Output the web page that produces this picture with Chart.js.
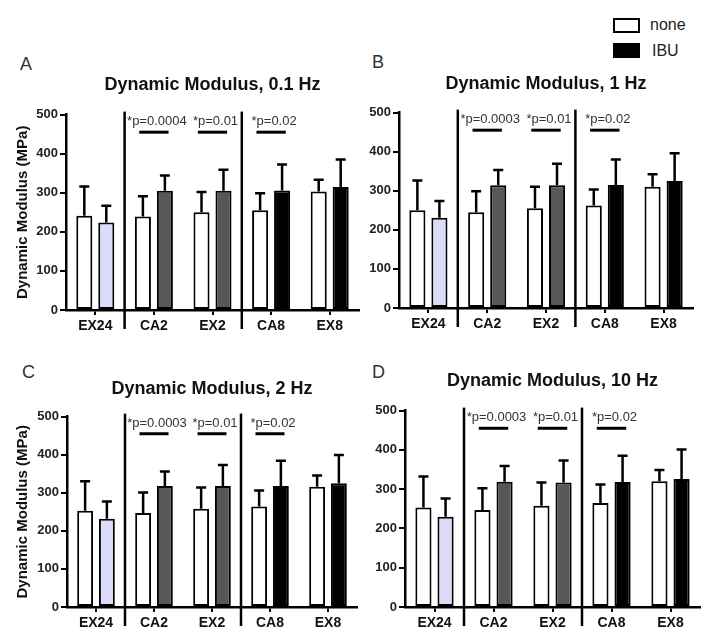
<!DOCTYPE html>
<html>
<head>
<meta charset="utf-8">
<script src="https://cdn.jsdelivr.net/npm/chart.js@4.4.0/dist/chart.umd.min.js"></script>
<style>
  body { margin: 0; background: #fff; font-family: "Liberation Sans", Arial, sans-serif; }
  #page { position: relative; width: 718px; height: 644px; overflow: hidden; }
  canvas { position: absolute; }
  .letter { position: absolute; font-size: 18px; line-height: 18px; color: #333; }
  .legend-box { position: absolute; width: 23px; height: 11px; border: 2px solid #000; }
  .legend-text { position: absolute; font-size: 16px; line-height: 16px; color: #222; }
</style>
</head>
<body>
<div id="page">
  <div class="letter" style="left:20px;top:55px">A</div>
  <div class="letter" style="left:372px;top:53px">B</div>
  <div class="letter" style="left:22px;top:363px">C</div>
  <div class="letter" style="left:372px;top:363px">D</div>

  <div class="legend-box" style="left:613px;top:18px;background:#fff"></div>
  <div class="legend-text" style="left:650px;top:17px">none</div>
  <div class="legend-box" style="left:613px;top:43px;background:#000"></div>
  <div class="legend-text" style="left:652px;top:43px">IBU</div>

  <canvas id="chartA" width="362" height="280" style="left:0;top:60px"></canvas>
  <canvas id="chartB" width="356" height="278" style="left:362px;top:60px"></canvas>
  <canvas id="chartC" width="362" height="277" style="left:0;top:360px"></canvas>
  <canvas id="chartD" width="356" height="282" style="left:362px;top:355px"></canvas>
</div>

<script>
'use strict';

const FONT = '"Liberation Sans", Arial, sans-serif';

const categories = ['EX24', 'CA2', 'EX2', 'CA8', 'EX8'];
const yTicks = [0, 100, 200, 300, 400, 500];
const groupStarts = ['CA2', 'CA8'];
const sigCategories = ['CA2', 'EX2', 'CA8'];

const titleA = 'Dynamic Modulus, 0.1 Hz';
const titleB = 'Dynamic Modulus, 1 Hz';
const titleC = 'Dynamic Modulus, 2 Hz';
const titleD = 'Dynamic Modulus, 10 Hz';
const yTitle = 'Dynamic Modulus (MPa)';

// means and upper SD for each panel
const noneA = [241, 239, 250, 255, 303];
const noneErrA = [75, 52, 52, 44, 30];
const ibuA = [224, 305, 305, 306, 315];
const ibuErrA = [43, 39, 54, 66, 70];

const noneB = [250, 245, 255, 262, 310];
const noneErrB = [76, 54, 55, 41, 32];
const ibuB = [231, 314, 314, 315, 325];
const ibuErrB = [43, 39, 55, 65, 71];

const noneC = [253, 247, 258, 264, 316];
const noneErrC = [77, 54, 56, 42, 29];
const ibuC = [232, 318, 318, 318, 325];
const ibuErrC = [45, 38, 55, 66, 74];

const noneD = [253, 247, 258, 265, 320];
const noneErrD = [79, 55, 59, 47, 29];
const ibuD = [230, 319, 317, 318, 326];
const ibuErrD = [46, 40, 56, 67, 75];

const pLabelsA = ['*p=0.0004', '*p=0.01', '*p=0.02'];
const pLabelsB = ['*p=0.0003', '*p=0.01', '*p=0.02'];
const pLabelsC = ['*p=0.0003', '*p=0.01', '*p=0.02'];
const pLabelsD = ['*p=0.0003', '*p=0.01', '*p=0.02'];

const ibuColors = ['#dcdcf8', '#575757', '#575757', '#000000', '#000000'];

// error bars, group separators and p-value brackets
const extrasPlugin = {
  id: 'extras',
  afterDatasetsDraw(chart, args, opts) {
    const ctx = chart.ctx;
    const y = chart.scales.y;
    const errs = [opts.noneErr, opts.ibuErr];
    ctx.save();
    ctx.strokeStyle = '#000';
    ctx.lineWidth = 2.5;
    chart.data.datasets.forEach((ds, d) => {
      chart.getDatasetMeta(d).data.forEach((bar, i) => {
        const top = y.getPixelForValue(ds.data[i] + errs[d][i]);
        ctx.beginPath();
        ctx.moveTo(bar.x, bar.y);
        ctx.lineTo(bar.x, top);
        ctx.moveTo(bar.x - 5, top);
        ctx.lineTo(bar.x + 5, top);
        ctx.stroke();
      });
    });
    ctx.restore();
  },
  afterDraw(chart, args, opts) {
    const ctx = chart.ctx;
    const x = chart.scales.x;
    const y = chart.scales.y;
    const area = chart.chartArea;
    const w = x.getPixelForValue(1) - x.getPixelForValue(0);
    ctx.save();
    ctx.strokeStyle = '#000';
    ctx.lineWidth = 2.5;
    groupStarts.forEach(name => {
      const i = categories.indexOf(name);
      const sx = (x.getPixelForValue(i - 1) + x.getPixelForValue(i)) / 2;
      ctx.beginPath();
      ctx.moveTo(sx, area.top - 3);
      ctx.lineTo(sx, area.bottom + 19);
      ctx.stroke();
    });
    ctx.lineWidth = 3;
    ctx.fillStyle = '#333';
    ctx.font = '13px ' + FONT;
    ctx.textAlign = 'center';
    ctx.textBaseline = 'middle';
    sigCategories.forEach((name, k) => {
      const cx = x.getPixelForValue(categories.indexOf(name));
      const ly = y.getPixelForValue(455);
      ctx.beginPath();
      ctx.moveTo(cx - 0.25 * w, ly);
      ctx.lineTo(cx + 0.25 * w, ly);
      ctx.stroke();
      ctx.fillText(opts.pLabels[k], cx + 3, y.getPixelForValue(482));
    });
    ctx.restore();
  }
};

function buildChart(canvasId, p) {
  const ctx = document.getElementById(canvasId).getContext('2d');
  return new Chart(ctx, {
    type: 'bar',
    data: {
      labels: categories,
      datasets: [{
        label: 'none',
        data: p.none,
        backgroundColor: '#ffffff',
        borderColor: '#000000',
        borderWidth: 2,
        borderSkipped: false,
        categoryPercentage: 0.75,
        barPercentage: 0.73
      }, {
        label: 'IBU',
        data: p.ibu,
        backgroundColor: ibuColors,
        borderColor: '#000000',
        borderWidth: 2,
        borderSkipped: false,
        categoryPercentage: 0.75,
        barPercentage: 0.73
      }]
    },
    options: {
      responsive: false,
      animation: false,
      layout: { padding: { left: 0, right: p.padRight, top: 0, bottom: 0 } },
      plugins: {
        legend: { display: false },
        tooltip: { enabled: false },
        title: {
          display: true,
          text: p.title,
          fullSize: false,
          color: '#111',
          font: { family: FONT, size: 18, weight: 'bold' },
          padding: { top: p.titleTop, bottom: p.titleBottom }
        },
        extras: { noneErr: p.noneErr, ibuErr: p.ibuErr, pLabels: p.pLabels }
      },
      scales: {
        x: {
          grid: { drawOnChartArea: false, offset: false, tickLength: 5, color: '#000', lineWidth: 2 },
          border: { color: '#000', width: 2.5 },
          ticks: { color: '#111', padding: 3, font: { family: FONT, size: 14, weight: 'bold' } },
          afterFit: s => { s.height = 30; }
        },
        y: {
          min: 0,
          max: 500,
          afterBuildTicks: s => { s.ticks = yTicks.map(v => ({ value: v })); },
          grid: { drawOnChartArea: false, tickLength: 6, color: '#000', lineWidth: 2 },
          border: { color: '#000', width: 2.5 },
          ticks: { color: '#222', padding: 2, font: { family: FONT, size: 13, weight: 'bold' } },
          title: {
            display: p.showYTitle,
            text: yTitle,
            color: '#111',
            font: { family: FONT, size: 15, weight: 'bold' },
            padding: { top: 14, bottom: 0 }
          },
          afterFit: s => { s.width = p.yWidth; }
        }
      }
    },
    plugins: [extrasPlugin]
  });
}

buildChart('chartA', {
  title: titleA, none: noneA, ibu: ibuA, noneErr: noneErrA, ibuErr: ibuErrA, pLabels: pLabelsA,
  showYTitle: true, yWidth: 66, padRight: 3, titleTop: 14, titleBottom: 19
});
buildChart('chartB', {
  title: titleB, none: noneB, ibu: ibuB, noneErr: noneErrB, ibuErr: ibuErrB, pLabels: pLabelsB,
  showYTitle: false, yWidth: 37, padRight: 25, titleTop: 13, titleBottom: 18
});
buildChart('chartC', {
  title: titleC, none: noneC, ibu: ibuC, noneErr: noneErrC, ibuErr: ibuErrC, pLabels: pLabelsC,
  showYTitle: true, yWidth: 67, padRight: 5, titleTop: 18, titleBottom: 17
});
buildChart('chartD', {
  title: titleD, none: noneD, ibu: ibuD, noneErr: noneErrD, ibuErr: ibuErrD, pLabels: pLabelsD,
  showYTitle: false, yWidth: 43, padRight: 18, titleTop: 15, titleBottom: 19
});
</script>
</body>
</html>
